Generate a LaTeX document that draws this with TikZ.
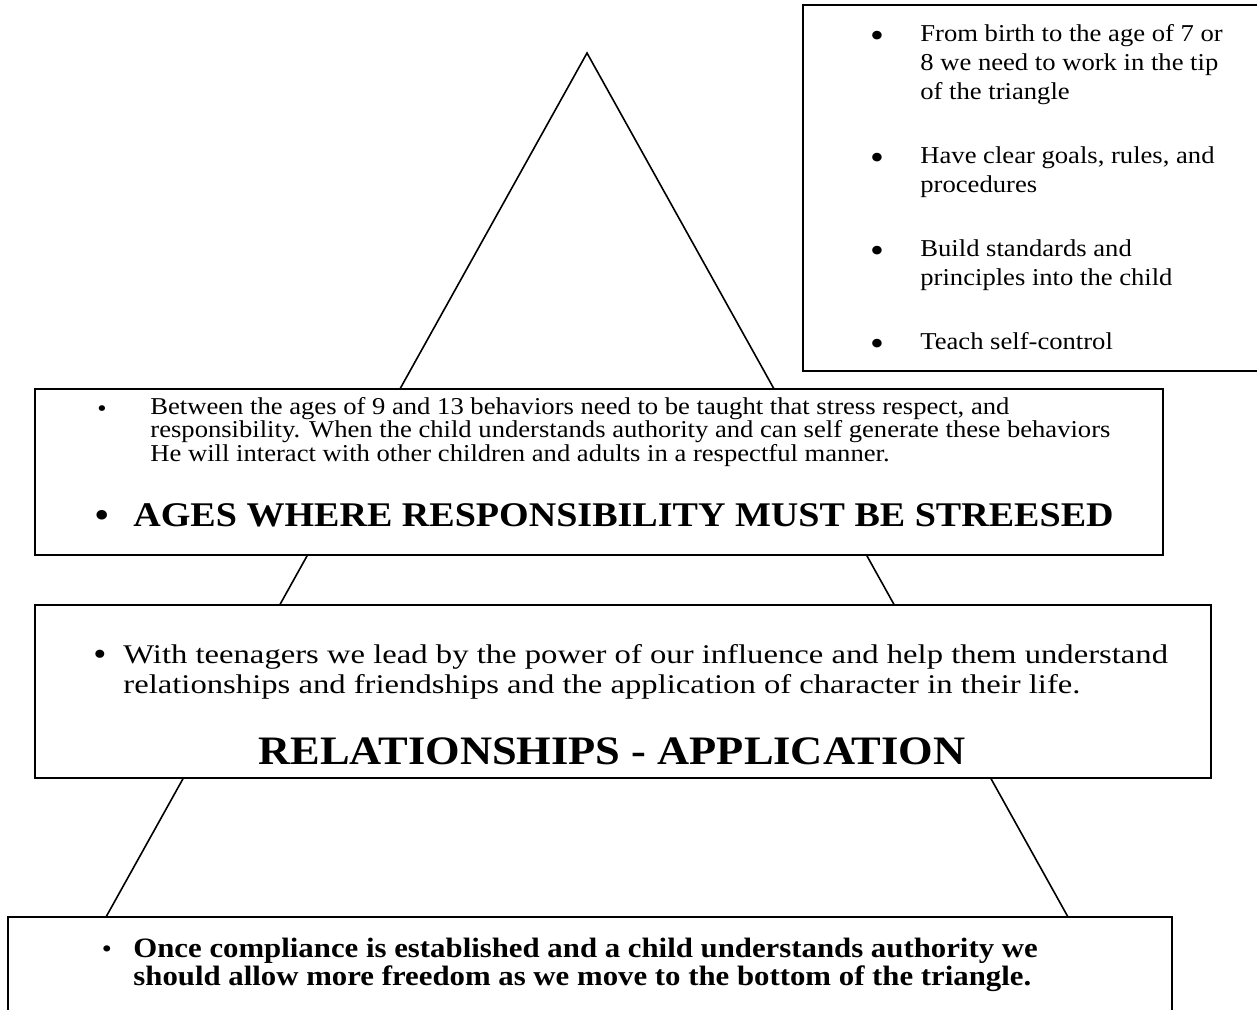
\documentclass[tikz,border=0pt]{standalone}
\usepackage{fontspec}
\setmainfont{Liberation Serif}[FakeStretch=1.1]
\newfontfamily\wideserif{Liberation Serif}[FakeStretch=1.21]
\usepackage{tikz}

\tikzset{
  panel/.style={draw, fill=white, line width=1pt},
  side/.style={line width=0.8pt},
  txt/.style={anchor=base west, inner sep=0pt},
  dot/.style={anchor=base, inner sep=0pt, font=\fontsize{#1}{#1}\selectfont},
}

\begin{document}
\begin{tikzpicture}[x=0.5pt, y=-0.5pt]
        \useasboundingbox (0,0) rectangle (1257,1009);
        \clip (0,0) rectangle (1257,1009);
        % triangle
        \coordinate (apex) at (587,53);
        \coordinate (baseL) at (106,917);
        \coordinate (baseR) at (1068,917);
        \draw[side] (baseL) -- (apex) -- (baseR);
        % tip box
        \draw[panel] (803,5) rectangle (1265,371);
        \begin{scope}[font=\fontsize{12.1}{14}\selectfont]
          \node[dot=18] (b1) at (877,47) {\textbullet};
          \node[txt] (t1a) at (920,41) {From birth to the age of 7 or};
          \node[txt] (t1b) at (920,70) {8 we need to work in the tip};
          \node[txt] (t1c) at (920,99) {of the triangle};
          \node[dot=18] (b2) at (877,169) {\textbullet};
          \node[txt] (t2a) at (920,163) {Have clear goals, rules, and};
          \node[txt] (t2b) at (920,192) {procedures};
          \node[dot=18] (b3) at (877,262) {\textbullet};
          \node[txt] (t3a) at (920,256) {Build standards and};
          \node[txt] (t3b) at (920,285) {principles into the child};
          \node[dot=18] (b4) at (877,355) {\textbullet};
          \node[txt] (t4a) at (920,349) {Teach self-control};
        \end{scope}
        % responsibility box
        \draw[panel] (35,389) rectangle (1163,555);
        \begin{scope}[font=\fontsize{12.1}{13}\selectfont]
          \node[dot=12] (r0) at (102,416) {\textbullet};
          \node[txt] (r1) at (150,414) {Between the ages of 9 and 13 behaviors need to be taught that stress respect, and};
          \node[txt] (r2) at (150,437) {responsibility. When the child understands authority and can self generate these behaviors};
          \node[txt] (r3) at (150,461) {He will interact with other children and adults in a respectful manner.};
        \end{scope}
        \node[dot=20] (rh0) at (102,528) {\textbullet};
        \node[txt, font=\fontsize{17.3}{19}\selectfont\bfseries] (rh) at (133,526) {AGES WHERE RESPONSIBILITY MUST BE STREESED};
        % relationships box
        \draw[panel] (35,605) rectangle (1211,778);
        \begin{scope}[font=\wideserif\fontsize{13.5}{16}\selectfont]
          \node[dot=17] (e0) at (100,665) {\textbullet};
          \node[txt] (e1) at (123,663) {With teenagers we lead by the power of our influence and help them understand};
          \node[txt] (e2) at (123,693) {relationships and friendships and the application of character in their life.};
        \end{scope}
        \node[anchor=base, inner sep=0pt, font=\fontsize{20.2}{22}\selectfont\bfseries] (eh) at (612,764) {RELATIONSHIPS - APPLICATION};
        % freedom box
        \draw[panel] (8,917) rectangle (1172,1015);
        \begin{scope}[font=\fontsize{14}{15}\selectfont\bfseries]
          \node[dot=13] (f0) at (107,957) {\textbullet};
          \node[txt] (f1) at (133,957) {Once compliance is established and a child understands authority we};
          \node[txt] (f2) at (133,985) {should allow more freedom as we move to the bottom of the triangle.};
        \end{scope}
      \end{tikzpicture}
\end{document}
